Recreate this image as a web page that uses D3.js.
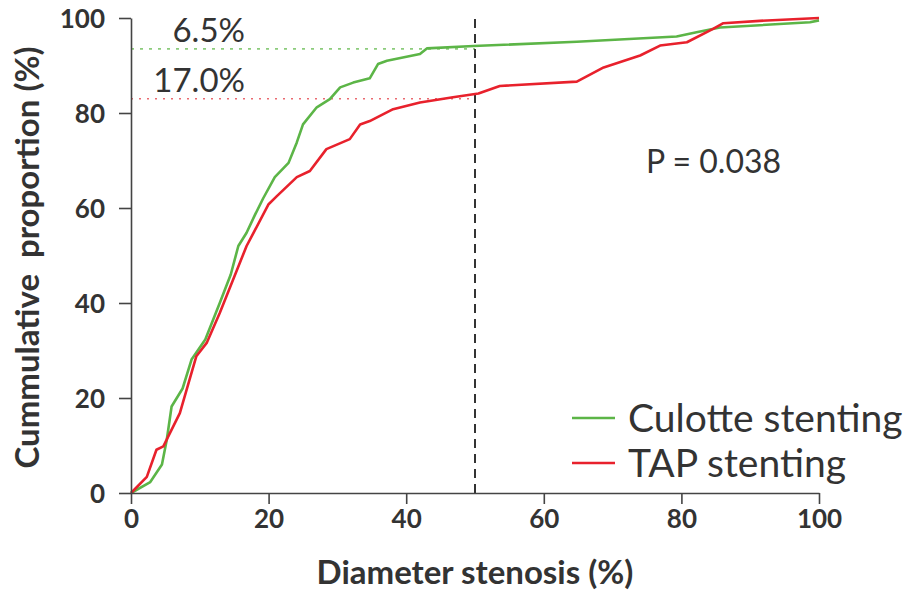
<!DOCTYPE html>
<html>
<head>
<meta charset="utf-8">
<script src="https://cdn.jsdelivr.net/npm/d3@7"></script>
<style>
  html, body { margin: 0; padding: 0; background: #fff; }
  svg { display: block; }
  text { font-family: Lato, "Open Sans", sans-serif; fill: #333; }
</style>
</head>
<body>
<svg id="chart" width="913" height="592"></svg>
<script>
// Cumulative distribution of diameter stenosis (%) by stenting technique
const culotteX = [0, 2.8, 4.5, 5.2, 5.9, 7.5, 8.8, 10.8, 12.9, 14.5, 15.6, 16.8, 18, 19.2, 20.9, 22.9, 24.1, 25, 27, 28.9, 30.4, 32.3, 34.7, 35.9, 37.2, 42, 43, 49.8, 64.8, 79.3, 82.2, 85.6, 98.7, 100];
const culotteY = [0, 2.3, 6, 11.2, 18.2, 22, 28.1, 32.3, 40, 46, 52, 54.8, 58.5, 62, 66.5, 69.5, 73.8, 77.6, 81.2, 82.9, 85.4, 86.4, 87.3, 90.3, 91, 92.4, 93.6, 94.1, 95, 96.1, 97, 98, 99.1, 99.5];

const tapX = [0, 2.3, 3.7, 4.7, 7.1, 9.5, 11, 12.9, 16.8, 20, 21.2, 24.1, 26, 28.4, 31.8, 33.3, 34.7, 38.1, 42, 46.8, 50.5, 53.6, 64.8, 68.7, 74, 76.9, 80.8, 84.6, 86.1, 91.4, 100];
const tapY = [0, 3.4, 9.1, 9.8, 16.8, 28.8, 31.6, 37.9, 52, 60.8, 62.5, 66.5, 67.8, 72.4, 74.5, 77.6, 78.3, 80.8, 82.2, 83.3, 84.1, 85.7, 86.6, 89.6, 92.1, 94.2, 94.9, 97.7, 98.9, 99.4, 100];

const xTicks = [0, 20, 40, 60, 80, 100];
const yTicks = [0, 20, 40, 60, 80, 100];

const seriesNames = ["Culotte stenting", "TAP stenting"];
const seriesColors = ["#5cb547", "#e8212c"];

// Proportion above the 50% cut-off in each group
const above50 = [6.5, 17.0];
const cutoff = 50;
const pValueText = "P = 0.038";

const margin = { top: 18, right: 94, bottom: 99, left: 131 };
const width = 913 - margin.left - margin.right;
const height = 592 - margin.top - margin.bottom;

const svg = d3.select("#chart");
const g = svg.append("g").attr("transform", `translate(${margin.left},${margin.top})`);

const x = d3.scaleLinear().domain([0, 100]).range([0, width]);
const y = d3.scaleLinear().domain([0, 100]).range([height, 0]);

// Reference lines at the 50% cut-off
above50.forEach((p, i) => {
  g.append("line")
    .attr("x1", x(0)).attr("x2", x(cutoff))
    .attr("y1", y(100 - p)).attr("y2", y(100 - p))
    .attr("stroke", i === 0 ? "#8ccc7c" : "#ea6a70")
    .attr("stroke-width", 1.6)
    .attr("stroke-dasharray", i === 0 ? "3,6" : "2,6");
});

g.append("line")
  .attr("x1", x(cutoff)).attr("x2", x(cutoff))
  .attr("y1", y(0)).attr("y2", y(100))
  .attr("stroke", "#333")
  .attr("stroke-width", 2)
  .attr("stroke-dasharray", "9,6");

// Curves
const line = d3.line().x(d => x(d[0])).y(d => y(d[1]));
const series = [
  d3.zip(culotteX, culotteY),
  d3.zip(tapX, tapY)
];
series.forEach((pts, i) => {
  g.append("path")
    .datum(pts)
    .attr("fill", "none")
    .attr("stroke", seriesColors[i])
    .attr("stroke-width", 2.6)
    .attr("stroke-linejoin", "round")
    .attr("d", line);
});

// Axes
const xAxis = g.append("g")
  .attr("transform", `translate(0,${height})`)
  .call(d3.axisBottom(x).tickValues(xTicks).tickSize(11).tickPadding(6).tickSizeOuter(0));
const yAxis = g.append("g")
  .call(d3.axisLeft(y).tickValues(yTicks).tickSize(12).tickPadding(14).tickSizeOuter(0));

[xAxis, yAxis].forEach(a => {
  a.select(".domain").attr("stroke", "#444").attr("stroke-width", 1.6);
  a.selectAll(".tick line").attr("stroke", "#444").attr("stroke-width", 1.6);
  a.selectAll(".tick text")
    .style("font-family", "Lato, sans-serif")
    .style("font-weight", "700")
    .style("font-size", "26px")
    .attr("fill", "#333");
});
yAxis.selectAll(".tick text").attr("dy", "0.36em");

// Axis titles
svg.append("text")
  .attr("x", margin.left + width / 2)
  .attr("y", 584)
  .attr("text-anchor", "middle")
  .style("font-weight", "700")
  .style("font-size", "33px")
  .text("Diameter stenosis (%)");

svg.append("text")
  .attr("transform", `translate(39,${margin.top + height / 2 + 2}) rotate(-90)`)
  .attr("text-anchor", "middle")
  .style("font-weight", "700")
  .style("font-size", "33px")
  .style("white-space", "pre")
  .text("Cummulative  proportion (%)");

// Percent labels over the reference lines
above50.forEach((p, i) => {
  g.append("text")
    .attr("x", 245 - margin.left)
    .attr("y", y(100 - p) - 7)
    .attr("text-anchor", "end")
    .style("font-size", "33px")
    .text(p.toFixed(1) + "%");
});

// P value
svg.append("text")
  .attr("x", 646)
  .attr("y", 173)
  .style("font-size", "32px")
  .text(pValueText);

// Legend
const legend = svg.append("g").attr("transform", "translate(572,418)");
seriesNames.forEach((name, i) => {
  const row = legend.append("g").attr("transform", `translate(0,${i * 45})`);
  row.append("line")
    .attr("x1", 0).attr("x2", 43)
    .attr("stroke", seriesColors[i])
    .attr("stroke-width", 2.6);
  row.append("text")
    .attr("x", 56)
    .attr("dy", "0.36em")
    .style("font-size", "39px")
    .text(name);
});
</script>
</body>
</html>
